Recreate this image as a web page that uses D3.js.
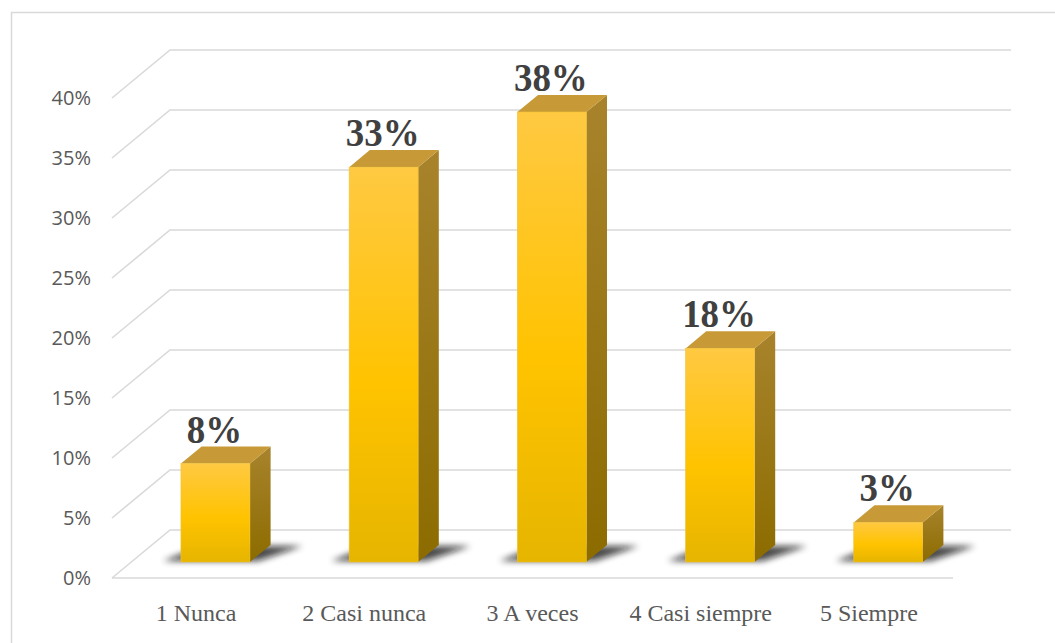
<!DOCTYPE html>
<html>
<head>
<meta charset="utf-8">
<script src="https://cdn.jsdelivr.net/npm/d3@7"></script>
<style>
  body { margin: 0; background: #fff; }
  svg { display: block; }
</style>
</head>
<body>
<svg width="1055" height="643"></svg>
<script>
// data
const categories = ["1 Nunca", "2 Casi nunca", "3 A veces", "4 Casi siempre", "5 Siempre"];
const values = [0.082, 0.329, 0.375, 0.178, 0.033];
const yTicks = [0, 0.05, 0.10, 0.15, 0.20, 0.25, 0.30, 0.35, 0.40];

const svg = d3.select("svg");
const W = +svg.attr("width"), H = +svg.attr("height");

// front plane of the 3d box
const x = d3.scaleBand()
    .domain(categories)
    .range([112, 953])
    .paddingInner(0.59)
    .paddingOuter(0.295);

const y = d3.scaleLinear()
    .domain([0, 0.40])
    .range([578, 98]);

// depth vector from front edge to back wall
const DX = 58, DY = -48;
const dFront = 1 / 3, dBack = 0.69; // where the bars sit inside the box

const grid = "#d9d9d9";
const serif = "'Liberation Serif', 'Times New Roman', Times, serif";

const defs = svg.append("defs");

const gFront = defs.append("linearGradient").attr("id", "front")
    .attr("x1", 0).attr("y1", 0).attr("x2", 0).attr("y2", 1);
gFront.append("stop").attr("offset", "0%").attr("stop-color", "#ffc942");
gFront.append("stop").attr("offset", "55%").attr("stop-color", "#ffc300");
gFront.append("stop").attr("offset", "100%").attr("stop-color", "#e6b500");

const gSide = defs.append("linearGradient").attr("id", "side")
    .attr("x1", 0).attr("y1", 0).attr("x2", 0).attr("y2", 1);
gSide.append("stop").attr("offset", "0%").attr("stop-color", "#a8832c");
gSide.append("stop").attr("offset", "100%").attr("stop-color", "#8c6c00");

defs.append("filter").attr("id", "blur")
    .attr("x", "-50%").attr("y", "-50%").attr("width", "200%").attr("height", "200%")
  .append("feGaussianBlur").attr("stdDeviation", 3);

// chart border
svg.append("rect")
    .attr("x", 11.5).attr("y", 12.5)
    .attr("width", W + 20).attr("height", H + 20)
    .attr("fill", "none")
    .attr("stroke", grid)
    .attr("stroke-width", 1.5);

// walls: back lines + left diagonals
const wall = svg.append("g")
    .attr("stroke", grid)
    .attr("stroke-width", 1.6)
    .attr("fill", "none");

const x0 = x.range()[0], x1 = x.range()[1];

wall.selectAll("path.back")
  .data(yTicks)
  .join("path")
    .attr("class", "back")
    .attr("d", t => `M${x0},${y(t)}L${x0 + DX},${y(t) + DY}L${x1 + DX},${y(t) + DY}`);

// floor front edge
wall.append("path")
    .attr("d", `M${x0},${y(0)}L${x1},${y(0)}`);

// y labels
const yAxis = svg.append("g")
    .attr("transform", `translate(${x0 - 8},0)`)
    .call(d3.axisLeft(y).tickValues(yTicks).tickFormat(d3.format(".0%")).tickSize(0).tickPadding(13));
yAxis.select(".domain").remove();
yAxis.selectAll("text")
    .attr("font-family", "'Open Sans', sans-serif")
    .attr("font-size", 20)
    .attr("fill", "#595959");

// bars
const bar = svg.append("g").selectAll("g")
  .data(values)
  .join("g");

const fx = (i) => x(categories[i]) + DX * dFront;
const by = y(0) + DY * dFront;        // base of bar front face
const sx = DX * (dBack - dFront), sy = DY * (dBack - dFront);
const h = v => y(0) - y(v);
const bw = x.bandwidth();

// soft shadow on the floor
bar.append("path")
    .attr("d", (v, i) => {
      const l = fx(i), r = l + bw;
      return `M${l - 18},${by - 1}L${r + 8},${by - 1}L${r + sx + 32},${by + sy + 1}L${l + sx},${by + sy + 1}Z`;
    })
    .attr("fill", "#111")
    .attr("opacity", 0.75)
    .attr("filter", "url(#blur)");

// side face
bar.append("path")
    .attr("d", (v, i) => {
      const r = fx(i) + bw, t = by - h(v);
      return `M${r},${by}L${r},${t}L${r + sx},${t + sy}L${r + sx},${by + sy}Z`;
    })
    .attr("fill", "url(#side)");

// top face
bar.append("path")
    .attr("d", (v, i) => {
      const l = fx(i), r = l + bw, t = by - h(v);
      return `M${l},${t}L${r},${t}L${r + sx},${t + sy}L${l + sx},${t + sy}Z`;
    })
    .attr("fill", "#c79a37");

// front face
bar.append("rect")
    .attr("x", (v, i) => fx(i))
    .attr("y", v => by - h(v))
    .attr("width", bw)
    .attr("height", v => h(v))
    .attr("fill", "url(#front)")
    .attr("stroke", "#f2c230")
    .attr("stroke-width", 0.6);

// value labels
bar.append("text")
    .attr("transform", (v, i) => `translate(${fx(i) + bw / 2 - 1},${by - h(v) - 21}) scale(0.9,1)`)
    .attr("text-anchor", "middle")
    .attr("font-family", serif)
    .attr("font-weight", "bold")
    .attr("font-size", 41)
    .attr("fill", "#404040")
    .text(d3.format(".0%"));

// category labels
svg.append("g").selectAll("text")
  .data(categories)
  .join("text")
    .attr("x", d => x(d) + bw / 2)
    .attr("y", 621)
    .attr("text-anchor", "middle")
    .attr("font-family", serif)
    .attr("font-size", 24)
    .attr("fill", "#595959")
    .text(d => d);
</script>
</body>
</html>
